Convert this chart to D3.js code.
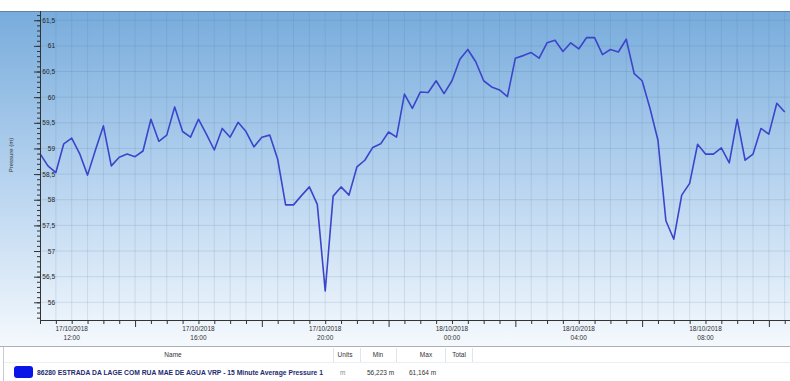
<!DOCTYPE html>
<html>
<head>
<meta charset="utf-8">
<script src="https://cdn.jsdelivr.net/npm/d3@7"></script>
<style>
  html, body { margin: 0; padding: 0; background: #ffffff; }
  svg { display: block; }
  text { font-family: "Liberation Sans", Arial, sans-serif; }
</style>
</head>
<body>
<svg id="chart" width="790" height="381"></svg>
<script>
// 15-minute average pressure readings (m), starting 17/10/2018 11:00
const startTime = Date.UTC(2018, 9, 17, 11, 0);
const stepMinutes = 15;
const pressure = [
  58.90, 58.66, 58.53, 59.09, 59.20, 58.90, 58.48, 58.97, 59.44, 58.66,
  58.83, 58.89, 58.84, 58.95, 59.57, 59.14, 59.26, 59.81, 59.33, 59.22,
  59.57, 59.28, 58.97, 59.39, 59.22, 59.51, 59.33, 59.03, 59.22, 59.26,
  58.79, 57.90, 57.90, 58.08, 58.25, 57.91, 56.223, 58.07, 58.25, 58.09,
  58.64, 58.77, 59.02, 59.09, 59.32, 59.22, 60.06, 59.78, 60.10, 60.09,
  60.32, 60.07, 60.32, 60.74, 60.93, 60.69, 60.32, 60.20, 60.14, 60.01,
  60.76, 60.81, 60.87, 60.76, 61.06, 61.11, 60.89, 61.06, 60.94, 61.164,
  61.16, 60.83, 60.93, 60.88, 61.13, 60.46, 60.32, 59.78, 59.16, 57.59,
  57.23, 58.09, 58.32, 59.08, 58.89, 58.89, 59.01, 58.72, 59.57, 58.77,
  58.89, 59.39, 59.28, 59.88, 59.71
];

// Labelled time ticks
const xTickTimes = [
  Date.UTC(2018, 9, 17, 12), Date.UTC(2018, 9, 17, 16), Date.UTC(2018, 9, 17, 20),
  Date.UTC(2018, 9, 18, 0), Date.UTC(2018, 9, 18, 4), Date.UTC(2018, 9, 18, 8)
];
const yTickValues = [56, 56.5, 57, 57.5, 58, 58.5, 59, 59.5, 60, 60.5, 61, 61.5];

// Legend table
const legendHeaders = ["Name", "Units", "Min", "Max", "Total"];
const seriesName = "86280 ESTRADA DA LAGE COM RUA MAE DE AGUA VRP - 15 Minute Average Pressure 1";
const seriesUnits = "m";

const locale = d3.formatLocale({decimal: ",", thousands: ".", grouping: [3], currency: ["", ""]});
const fmt3 = locale.format(".3f");
const fmtTick = v => String(v).replace(".", ",");

const svg = d3.select("#chart");
const plot = {left: 40, right: 790, top: 11, bottom: 320};

const times = pressure.map((_, i) => new Date(startTime + i * stepMinutes * 60000));

const x = d3.scaleUtc()
  .domain([new Date(Date.UTC(2018, 9, 17, 11, 0)), new Date(Date.UTC(2018, 9, 18, 10, 40))])
  .range([plot.left, plot.right]);
const y = d3.scaleLinear().domain([55.655, 61.68]).range([plot.bottom, plot.top]);

// Panel background gradient
const defs = svg.append("defs");
const grad = defs.append("linearGradient").attr("id", "bg").attr("x1", 0).attr("y1", 0).attr("x2", 0).attr("y2", 1);
grad.append("stop").attr("offset", "0%").attr("stop-color", "#78acdc");
grad.append("stop").attr("offset", "50%").attr("stop-color", "#b6d3ef");
grad.append("stop").attr("offset", "100%").attr("stop-color", "#f5f9fd");
defs.append("clipPath").attr("id", "plotClip").append("rect")
  .attr("x", plot.left).attr("y", plot.top).attr("width", plot.right - plot.left).attr("height", plot.bottom - plot.top);

svg.append("rect").attr("x", 0).attr("y", plot.top).attr("width", 790).attr("height", 336)
  .attr("fill", "url(#bg)");

// Grid
const grid = svg.append("g").attr("clip-path", "url(#plotClip)");
grid.selectAll("line.v").data(d3.utcMinute.every(30).range(x.domain()[0], x.domain()[1]))
  .join("line").attr("class", "v")
  .attr("x1", d => x(d)).attr("x2", d => x(d))
  .attr("y1", plot.top).attr("y2", plot.bottom)
  .attr("stroke", "#4a6f96").attr("stroke-opacity", 0.15).attr("stroke-width", 1);
grid.selectAll("line.h").data(yTickValues)
  .join("line").attr("class", "h")
  .attr("x1", plot.left).attr("x2", plot.right)
  .attr("y1", d => y(d)).attr("y2", d => y(d))
  .attr("stroke", "#4a6f96").attr("stroke-opacity", 0.17).attr("stroke-width", 1);

// Top border of the plot
svg.append("line").attr("x1", 0).attr("x2", 790).attr("y1", plot.top + 0.5).attr("y2", plot.top + 0.5)
  .attr("stroke", "#5f82a8").attr("stroke-width", 1);

// Pressure line
const line = d3.line().x((d, i) => x(times[i])).y(d => y(d));
svg.append("path").datum(pressure)
  .attr("d", line)
  .attr("fill", "none")
  .attr("stroke", "#3b45cb")
  .attr("stroke-width", 1.6)
  .attr("stroke-linejoin", "round");

// Y axis: minor ticks every 0.1, major every 0.5
const yMinor = d3.range(55.7, 61.65, 0.1).map(v => +v.toFixed(1));
svg.append("g").attr("transform", `translate(${plot.left},0)`)
  .call(d3.axisLeft(y).tickValues(yMinor).tickSize(3).tickFormat(""))
  .call(g => g.select(".domain").remove())
  .call(g => g.selectAll("line").attr("stroke", "#333"));
const yAxis = svg.append("g").attr("transform", `translate(${plot.left},0)`)
  .call(d3.axisLeft(y).tickValues(yTickValues).tickSize(6).tickFormat(fmtTick));
yAxis.select(".domain").attr("stroke", "#333").attr("d", `M0.5,${plot.top}V${plot.bottom + 3}`);
yAxis.selectAll("line").attr("stroke", "#333");
yAxis.selectAll("text").attr("x", 15).attr("text-anchor", "end")
  .attr("font-size", 6.5).attr("fill", "#222");

// X axis: ticks every 30 minutes, longer ticks every 4 hours from 14:00
const xAxis = svg.append("g").attr("transform", `translate(0,${plot.bottom})`)
  .call(d3.axisBottom(x).ticks(d3.utcMinute.every(30)).tickSize(3).tickFormat(""));
xAxis.select(".domain").attr("stroke", "#333").attr("d", `M${plot.left},0.5H${plot.right}`);
xAxis.selectAll(".tick line").attr("stroke", "#333")
  .attr("y1", 0)
  .attr("y2", d => (d.getUTCMinutes() === 0 && (d.getUTCHours() + 2) % 4 === 0) ? 7 : 4);

const xl = svg.append("g").selectAll("text").data(xTickTimes).join("text")
  .attr("x", d => x(new Date(d)))
  .attr("text-anchor", "middle")
  .attr("font-size", 6.5).attr("fill", "#333");
xl.append("tspan").attr("x", d => x(new Date(d))).attr("y", 331)
  .text(d => d3.utcFormat("%d/%m/%Y")(new Date(d)));
xl.append("tspan").attr("x", d => x(new Date(d))).attr("y", 340)
  .text(d => d3.utcFormat("%H:%M")(new Date(d)));

// Y axis title
svg.append("text").attr("transform", "translate(13,155) rotate(-90)")
  .attr("text-anchor", "middle").attr("font-size", 6).attr("fill", "#333")
  .text("Pressure (m)");

// Legend table
const tbl = svg.append("g");
tbl.append("rect").attr("x", 0).attr("y", 346).attr("width", 790).attr("height", 35).attr("fill", "#ffffff");
tbl.append("line").attr("x1", 0).attr("x2", 790).attr("y1", 346.5).attr("y2", 346.5)
  .attr("stroke", "#a8b0b8").attr("stroke-width", 1.2);
tbl.append("line").attr("x1", 3.5).attr("x2", 3.5).attr("y1", 347).attr("y2", 381)
  .attr("stroke", "#c8ccd0");
tbl.append("line").attr("x1", 4).attr("x2", 790).attr("y1", 362.5).attr("y2", 362.5)
  .attr("stroke", "#eceff2");
const colX = [173, 345, 378, 426, 459];
const sepX = [333, 360, 396, 445, 472];
tbl.selectAll("line.sep").data(sepX).join("line").attr("class", "sep")
  .attr("x1", d => d + 0.5).attr("x2", d => d + 0.5).attr("y1", 348).attr("y2", 362)
  .attr("stroke", "#e2e5e8");
tbl.selectAll("text.hdr").data(legendHeaders).join("text").attr("class", "hdr")
  .attr("x", (d, i) => colX[i]).attr("y", 357)
  .attr("text-anchor", "middle").attr("font-size", 6.5).attr("fill", "#333")
  .text(d => d);

tbl.append("rect").attr("x", 14).attr("y", 366).attr("width", 19).attr("height", 12).attr("rx", 3)
  .attr("fill", "#0a14e6");
tbl.append("text").attr("x", 37).attr("y", 375)
  .attr("font-size", 6.5).attr("font-weight", "bold").attr("fill", "#1d2a6e")
  .attr("textLength", 286).attr("lengthAdjust", "spacingAndGlyphs")
  .text(seriesName);
tbl.append("text").attr("x", 340).attr("y", 375).attr("font-size", 6.5).attr("fill", "#888")
  .text(seriesUnits);
tbl.append("text").attr("x", 367).attr("y", 375).attr("font-size", 6.5).attr("fill", "#333")
  .text(fmt3(d3.min(pressure)) + " m");
tbl.append("text").attr("x", 409).attr("y", 375).attr("font-size", 6.5).attr("fill", "#333")
  .text(fmt3(d3.max(pressure)) + " m");
</script>
</body>
</html>
